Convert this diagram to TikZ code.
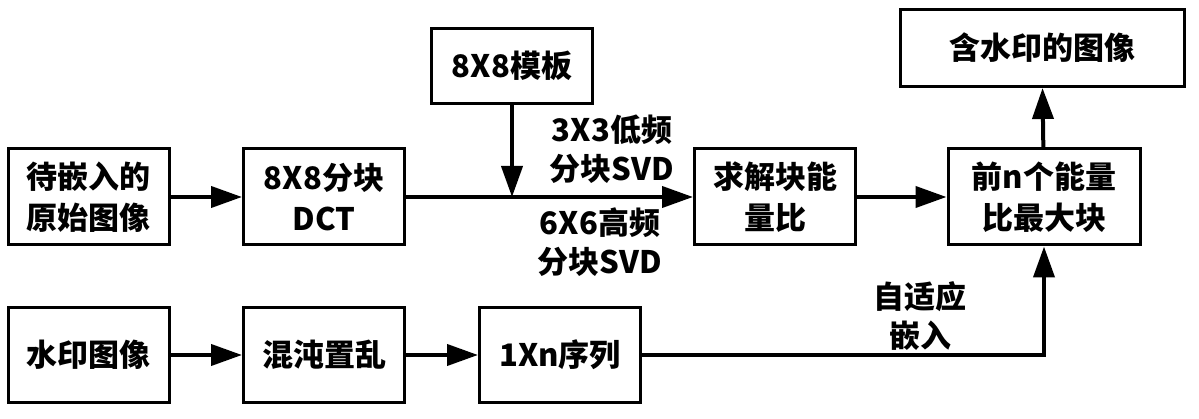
\documentclass[tikz,border=0pt]{standalone}
\usepackage{fontspec}
\setmainfont{Noto Sans CJK SC}
\usetikzlibrary{arrows.meta}
\tikzset{
	blk/.style={draw, line width=3pt, minimum width=161pt, minimum height=96pt, inner sep=0pt, align=center, font=\fontsize{31}{41}\selectfont\bfseries},
	lbl/.style={inner sep=0pt, align=center, font=\fontsize{31}{39}\selectfont\bfseries},
	flow/.style={line width=4pt, -{Triangle[length=31pt,width=21pt]}}
}

\begin{document}
\begin{tikzpicture}[x=1pt, y=-1pt]
			%%%%% START %%%%%
			\useasboundingbox (0, 0) rectangle (1199, 419);
			
			\node[blk] (src) at (89, 197) {待嵌入的\\原始图像};
			\node[blk] (dct) at (324, 197) {8X8分块\\DCT};
			\node[blk, minimum height=75pt] (tpl) at (512, 66) {8X8模板};
			\node[blk] (eng) at (775, 197) {求解块能\\量比};
			\node[blk, minimum width=192pt] (top) at (1044, 197) {前n个能量\\比最大块};
			\node[blk, minimum width=284pt, minimum height=77pt] (res) at (1042, 48) {含水印的图像};
			
			\node[blk, minimum height=95pt] (wm) at (89, 355) {水印图像};
			\node[blk, minimum height=95pt] (chaos) at (324, 355) {混沌置乱};
			\node[blk, minimum height=95pt] (seq) at (560, 355) {1Xn序列};
			
			\coordinate (join) at (512, 197);
			
			\draw[flow] (src) -- (dct);
			\draw[flow] (dct) -- (eng);
			\draw[flow] (tpl) -- (join);
			\draw[flow] (eng) -- (top);
			\draw[flow] (top) -- (res);
			
			\draw[flow] (wm) -- (chaos);
			\draw[flow] (chaos) -- (seq);
			\draw[flow] (seq.east) -| (top.south);
			
			\node[lbl] (low) at (612, 149) {3X3低频\\分块SVD};
			\node[lbl] (high) at (600, 242) {6X6高频\\分块SVD};
			\node[lbl] (adapt) at (920, 316) {自适应\\嵌入};
			%%%%% END %%%%%
\end{tikzpicture}
\end{document}
